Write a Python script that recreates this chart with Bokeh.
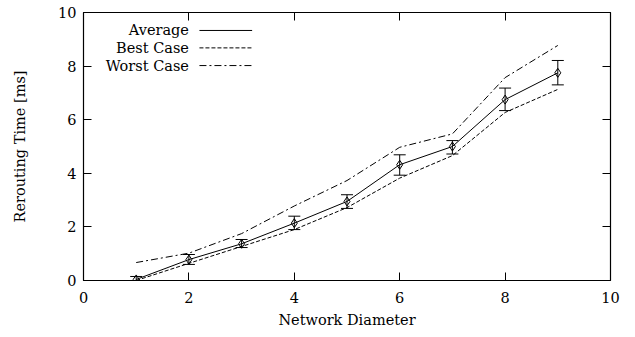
from bokeh.plotting import figure
from bokeh.models import ColumnDataSource, Whisker, LinearAxis, CustomJSTickFormatter, FixedTicker, TeeHead, Range1d
from bokeh.core.properties import value
from bokeh.embed import file_html
from bokeh.resources import INLINE

# ---- data ----
diameter = [1, 2, 3, 4, 5, 6, 7, 8, 9]
avg = [0.04, 0.78, 1.37, 2.14, 2.95, 4.32, 5.00, 6.75, 7.75]
avg_lo = [-0.08, 0.60, 1.23, 1.90, 2.69, 3.93, 4.72, 6.34, 7.30]
avg_hi = [0.15, 0.97, 1.53, 2.40, 3.20, 4.69, 5.22, 7.18, 8.21]
best = [0.00, 0.64, 1.27, 1.90, 2.72, 3.82, 4.66, 6.27, 7.13]
worst = [0.67, 1.02, 1.75, 2.78, 3.73, 4.97, 5.47, 7.57, 8.77]
series_names = ["Average", "Best Case", "Worst Case"]
x_ticks = [0, 2, 4, 6, 8, 10]
y_ticks = [0, 2, 4, 6, 8, 10]

FONT = "DejaVu Serif"
FS = "14.5px"

p = figure(width=627, height=335, output_backend="svg", toolbar_location=None,
           x_range=Range1d(0, 10), y_range=Range1d(0, 10),
           min_border_left=83, min_border_right=17, min_border_top=12, min_border_bottom=55)
p.grid.visible = False
p.outline_line_color = "black"
p.outline_line_width = 1.2
p.background_fill_color = "white"

src = ColumnDataSource(dict(x=diameter, avg=avg, lo=avg_lo, hi=avg_hi, best=best, worst=worst))

p.line("x", "avg", source=src, line_color="black", line_width=1)
p.line("x", "best", source=src, line_color="black", line_width=1, line_dash="4 2")
p.line("x", "worst", source=src, line_color="black", line_width=1, line_dash="7 3 2 3")
w = Whisker(source=src, base="x", lower="lo", upper="hi", line_color="black", line_width=1,
            upper_head=TeeHead(size=12, line_color="black", line_width=1),
            lower_head=TeeHead(size=12, line_color="black", line_width=1))
p.add_layout(w)
p.scatter("x", "avg", source=src, marker="diamond", size=9, fill_color=None, line_color="black", line_width=1)

# axes styling
for ax in (p.xaxis[0], p.yaxis[0]):
    ax.ticker = FixedTicker(ticks=x_ticks)
    ax.major_tick_in = 8
    ax.major_tick_out = 0
    ax.minor_tick_in = 0
    ax.minor_tick_out = 0
    ax.axis_line_color = None
    ax.major_tick_line_color = "black"
    ax.major_label_text_font = FONT
    ax.major_label_text_font_size = FS
    ax.major_label_text_color = "black"
    ax.axis_label_text_font = FONT
    ax.axis_label_text_font_size = FS
    ax.axis_label_text_font_style = "normal"
    ax.axis_label_text_color = "black"
p.yaxis[0].ticker = FixedTicker(ticks=y_ticks)
p.xaxis[0].axis_label = "Network Diameter"
p.yaxis[0].axis_label = "Rerouting Time [ms]"
p.xaxis[0].major_label_standoff = 11
p.xaxis[0].axis_label_standoff = 6
p.yaxis[0].major_label_standoff = 7
p.yaxis[0].axis_label_standoff = 27

# mirrored ticks on top and right
for loc, ticks in (("above", x_ticks), ("right", y_ticks)):
    ax = LinearAxis(ticker=FixedTicker(ticks=ticks),
                    formatter=CustomJSTickFormatter(code="return ''"))
    ax.major_tick_in = 8
    ax.major_tick_out = 0
    ax.minor_tick_in = 0
    ax.minor_tick_out = 0
    ax.axis_line_color = None
    ax.major_label_standoff = 0
    ax.major_tick_line_color = "black"
    p.add_layout(ax, loc)

# legend (text right-aligned, sample to the right)
leg_y = [9.33, 8.68, 8.02]
leg_src = ColumnDataSource(dict(name=series_names, y=leg_y, x=[2.0] * 3,
                                x0=[2.2] * 3, x1=[3.2] * 3))
p.text(x="x", y="y", text="name", source=leg_src, text_align="right", text_baseline="middle",
       text_font=value(FONT), text_font_size=FS, text_color="black")
dashes = ["solid", "4 2", "7 3 2 3"]
for i, d in enumerate(dashes):
    p.segment(x0=leg_src.data["x0"][i], y0=leg_y[i], x1=leg_src.data["x1"][i], y1=leg_y[i],
              line_color="black", line_width=1, line_dash=d)

open("out.html", "w").write(file_html(p, INLINE))
